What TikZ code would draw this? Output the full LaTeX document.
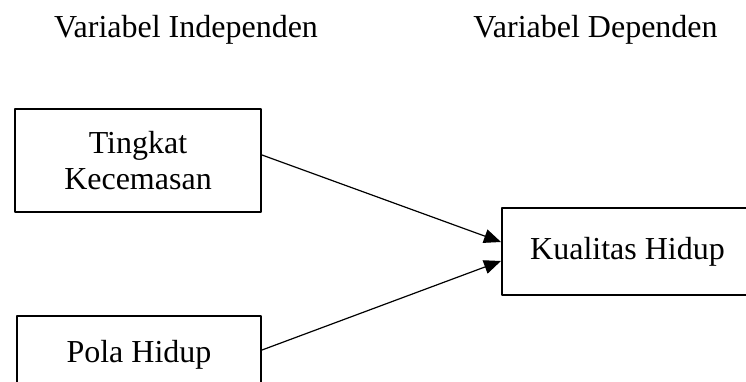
\documentclass[tikz,border=0pt]{standalone}
\usepackage{fontspec}
\setmainfont{Liberation Serif}
\usetikzlibrary{arrows.meta}
\tikzset{
	kotak/.style={draw,line width=2pt,inner sep=0pt,align=center},
	panah/.style={-{Triangle[length=17pt,width=14pt]},line width=1.2pt}
}
\begin{document}
\begin{tikzpicture}[x=1pt,y=-1pt,line join=round,font=\fontsize{32}{36.5}\selectfont]
	\useasboundingbox (0,0) rectangle (746,382);
	% judul
	\node[anchor=base] (judulX) at (186,38) {Variabel Independen};
	\node[anchor=base] (judulY) at (595.5,38) {Variabel Dependen};
	% kotak variabel
	\node[kotak,minimum width=246pt,minimum height=103pt] (tk) at (138,160.5) {Tingkat\\Kecemasan};
	\node[kotak,minimum width=244pt,minimum height=77pt] (ph) at (139,354.5) {Pola Hidup};
	\node[kotak,minimum width=251pt,minimum height=87pt] (kh) at (627.5,251.5) {Kualitas Hidup};
	% panah
	\draw[panah] ([yshift=5.5pt]tk.east)--([yshift=9.5pt]kh.west);
	\draw[panah] ([yshift=4.5pt]ph.east)--([yshift=-9.5pt]kh.west);
\end{tikzpicture}
\end{document}
